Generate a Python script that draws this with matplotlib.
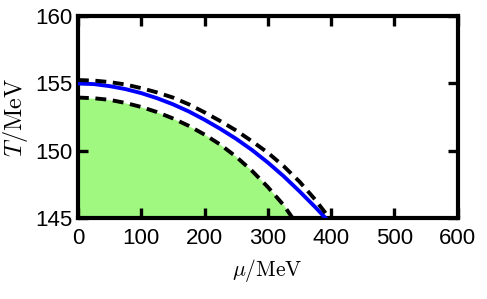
import matplotlib
matplotlib.use("Agg")
import matplotlib.pyplot as plt

plt.rcParams['mathtext.fontset'] = 'cm'

mu_blue = [0, 25, 50, 75, 100, 125, 150, 175, 200, 225, 250, 275, 300, 325, 350, 375, 391]
T_blue = [155.0, 154.95, 154.8, 154.58, 154.28, 153.9, 153.45, 152.92, 152.3, 151.62,
          150.88, 150.05, 149.12, 148.1, 146.98, 145.8, 145.0]

mu_upper = [0, 25, 50, 75, 100, 125, 150, 175, 200, 225, 250, 275, 300, 325, 350, 375, 397]
T_upper = [155.25, 155.21, 155.1, 154.92, 154.65, 154.33, 153.95, 153.45, 152.85, 152.2,
           151.5, 150.7, 149.85, 148.85, 147.7, 146.35, 145.0]

mu_lower = [0, 25, 50, 75, 100, 125, 150, 175, 200, 225, 250, 275, 300, 325, 339]
T_lower = [153.95, 153.9, 153.78, 153.55, 153.25, 152.87, 152.4, 151.85, 151.2, 150.45,
           149.55, 148.5, 147.3, 145.95, 145.0]

xticks = [0, 100, 200, 300, 400, 500, 600]
yticks = [145, 150, 155, 160]

fig = plt.figure(figsize=(4.87, 2.99), dpi=100)
ax = fig.add_axes([0.160, 0.271, 0.780, 0.675])

ax.fill_between(mu_lower, T_lower, 145, color='#a0f880', linewidth=0, zorder=1)
ax.plot(mu_blue, T_blue, color='#0000ff', linewidth=2.8, zorder=3)
ax.plot(mu_upper, T_upper, color='black', linewidth=2.8, dashes=(2.8, 1.7), zorder=4)
ax.plot(mu_lower, T_lower, color='black', linewidth=2.8, dashes=(2.8, 1.7), zorder=4)

ax.set_xlim(0, 600)
ax.set_ylim(145, 160)
ax.set_xticks(xticks)
ax.set_yticks(yticks)

for s in ax.spines.values():
    s.set_linewidth(3.0)
ax.tick_params(direction='in', length=7.5, width=2.4, top=True, right=True,
               labelsize=16)
ax.tick_params(axis='x', pad=7)
ax.tick_params(axis='y', pad=4)
for lab in ax.get_xticklabels() + ax.get_yticklabels():
    lab.set_fontfamily('Liberation Sans')

ax.set_xlabel(r'$\mu/\mathrm{MeV}$', fontsize=15.5, labelpad=6)
ax.set_ylabel(r'$T/\mathrm{MeV}$', fontsize=17.5, labelpad=4)

fig.savefig('out.png', dpi=100)
